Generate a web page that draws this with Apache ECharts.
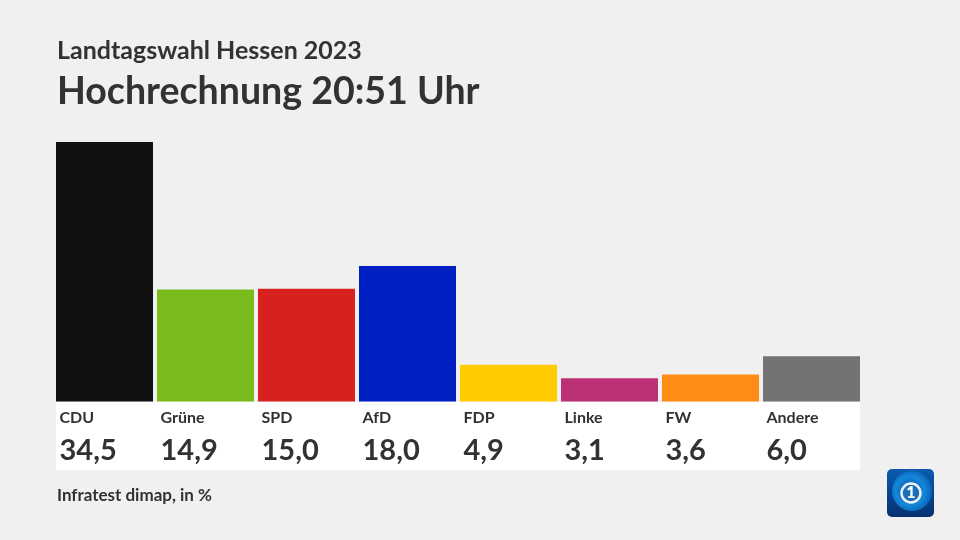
<!DOCTYPE html>
<html lang="de">
<head>
  <meta charset="UTF-8">
  <title>Landtagswahl Hessen 2023</title>
  <script src="https://cdn.jsdelivr.net/npm/echarts@6/dist/echarts.min.js"></script>
  <style>
    html, body { margin: 0; padding: 0; background: #f0f0f0; }
    #main { width: 960px; height: 540px; }
  </style>
</head>
<body>
  <div id="main"></div>
  <script>
    const parteien = ['CDU', 'Grüne', 'SPD', 'AfD', 'FDP', 'Linke', 'FW', 'Andere'];
    const werte = [34.5, 14.9, 15.0, 18.0, 4.9, 3.1, 3.6, 6.0];
    const farben = ['#111111', '#7ABC1B', '#D8211F', '#0020C4', '#FFCC00', '#BC3075', '#FF8C14', '#737373'];

    const schrift = 'Lato, sans-serif';
    const textFarbe = '#333230';

    const myChart = echarts.init(document.getElementById('main'));
    myChart.setOption({
      backgroundColor: '#f0f0f0',
      animation: false,
      title: [
        { text: 'Landtagswahl Hessen 2023', left: 52, top: 33,
          textStyle: { fontFamily: schrift, fontSize: 25, fontWeight: 700, color: textFarbe } },
        { text: 'Hochrechnung 20:51 Uhr', left: 52, top: 68,
          textStyle: { fontFamily: schrift, fontSize: 37.5, fontWeight: 700, color: textFarbe } },
        { text: 'Infratest dimap, in %', left: 52, top: 482,
          textStyle: { fontFamily: schrift, fontSize: 17, fontWeight: 700, color: textFarbe } }
      ],
      grid: { left: 54, top: 142, width: 808, height: 259.5 },
      xAxis: {
        type: 'category',
        data: parteien,
        axisLine: { show: false },
        axisTick: { show: false },
        axisLabel: {
          interval: 0,
          align: 'left',
          margin: 6,
          padding: [0, 0, 0, -45],
          formatter: function (name, i) {
            return '{n|' + name + '}\n{w|' + werte[i].toFixed(1).replace('.', ',') + '}';
          },
          rich: {
            n: { fontFamily: schrift, fontSize: 16, fontWeight: 700, color: textFarbe, height: 20, align: 'left' },
            w: { fontFamily: schrift, fontSize: 29, fontWeight: 700, color: textFarbe, height: 46, align: 'left' }
          }
        }
      },
      yAxis: { type: 'value', min: 0, max: 34.5, show: false },
      series: [{
        type: 'bar',
        barWidth: 97,
        data: werte.map(function (v, i) {
          return { value: v, itemStyle: { color: farben[i] } };
        })
      }],
      graphic: [
        { type: 'rect', z: -10, silent: true,
          shape: { x: 56, y: 402, width: 804, height: 68 }, style: { fill: '#ffffff' } },
        { type: 'group', left: 887, top: 469, children: [
          { type: 'rect', shape: { x: 0, y: 0, width: 47, height: 48, r: 5 },
            style: { fill: new echarts.graphic.LinearGradient(0, 0, 0, 1, [
              { offset: 0, color: '#0a5cb0' }, { offset: 1, color: '#06306f' }]) } },
          { type: 'circle', shape: { cx: 25, cy: 22, r: 20 },
            style: { fill: new echarts.graphic.RadialGradient(0.45, 0.5, 0.55, [
              { offset: 0, color: '#0a3f8e' }, { offset: 0.65, color: '#1488da' }, { offset: 1, color: '#0a62b8' }]) } },
          { type: 'circle', shape: { cx: 24, cy: 24, r: 9.5 },
            style: { fill: '#1a6fb8', stroke: '#e8f3fb', lineWidth: 2.5 } },
          { type: 'text', style: { text: '1', x: 24, y: 24, align: 'center', verticalAlign: 'middle',
            fontFamily: schrift, fontSize: 16, fontWeight: 900, fill: '#ffffff' } }
        ] }
      ]
    });
  </script>
</body>
</html>
